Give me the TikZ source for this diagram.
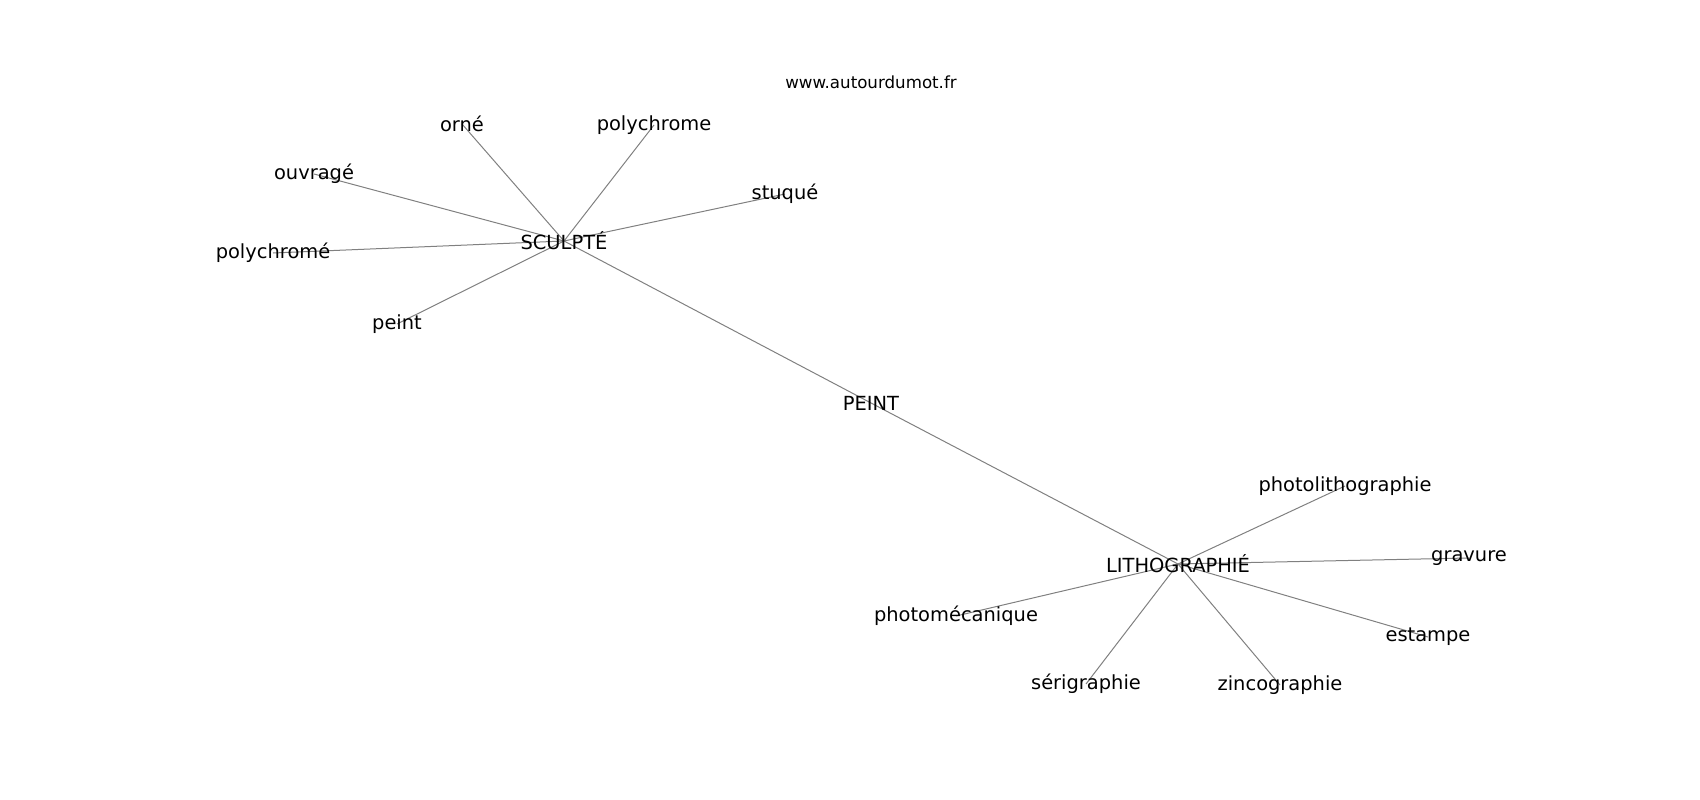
\documentclass[tikz,border=0pt]{standalone}
\usepackage{fontspec}
\setmainfont{DejaVu Sans}
\pgfdeclarelayer{background}
\pgfsetlayers{background,main}
\tikzset{
  word/.style={inner sep=0pt, outer sep=0pt, font=\fontsize{19.44bp}{23bp}\selectfont, text=black},
  small/.style={inner sep=0pt, outer sep=0pt, font=\fontsize{16.67bp}{20bp}\selectfont, text=black},
  link/.style={draw=gray, line width=1bp}
}
\begin{document}
\begin{tikzpicture}[x=1bp,y=-1bp]
\useasboundingbox (0,0) rectangle (1700,800);
\node[small] (site) at (871,82) {www.autourdumot.fr};
\node[word] (sc) at (564,241) {SCULPTÉ};
\node[word] (orne) at (462,124) {orné};
\node[word] (polya) at (654,125) {polychrome};
\node[word] (ouvr) at (314,174) {ouvragé};
\node[word] (stuq) at (785,194) {stuqué};
\node[word] (polyb) at (273,253) {polychromé};
\node[word] (peintl) at (397,324) {peint};
\node[word] (peintu) at (871,403) {PEINT};
\node[word] (litho) at (1178,564) {LITHOGRAPHIÉ};
\node[word] (photol) at (1345,486) {photolithographie};
\node[word] (grav) at (1469,558) {gravure};
\node[word] (estp) at (1428,637) {estampe};
\node[word] (photom) at (956,616) {photomécanique};
\node[word] (serig) at (1086,684) {sérigraphie};
\node[word] (zinc) at (1280,685) {zincographie};
\begin{pgfonlayer}{background}
\draw[link] (sc.center) -- (orne.center);
\draw[link] (sc.center) -- (polya.center);
\draw[link] (sc.center) -- (ouvr.center);
\draw[link] (sc.center) -- (stuq.center);
\draw[link] (sc.center) -- (polyb.center);
\draw[link] (sc.center) -- (peintl.center);
\draw[link] (sc.center) -- (peintu.center);
\draw[link] (peintu.center) -- (litho.center);
\draw[link] (litho.center) -- (photol.center);
\draw[link] (litho.center) -- (grav.center);
\draw[link] (litho.center) -- (estp.center);
\draw[link] (litho.center) -- (photom.center);
\draw[link] (litho.center) -- (serig.center);
\draw[link] (litho.center) -- (zinc.center);
\end{pgfonlayer}
\end{tikzpicture}
\end{document}
